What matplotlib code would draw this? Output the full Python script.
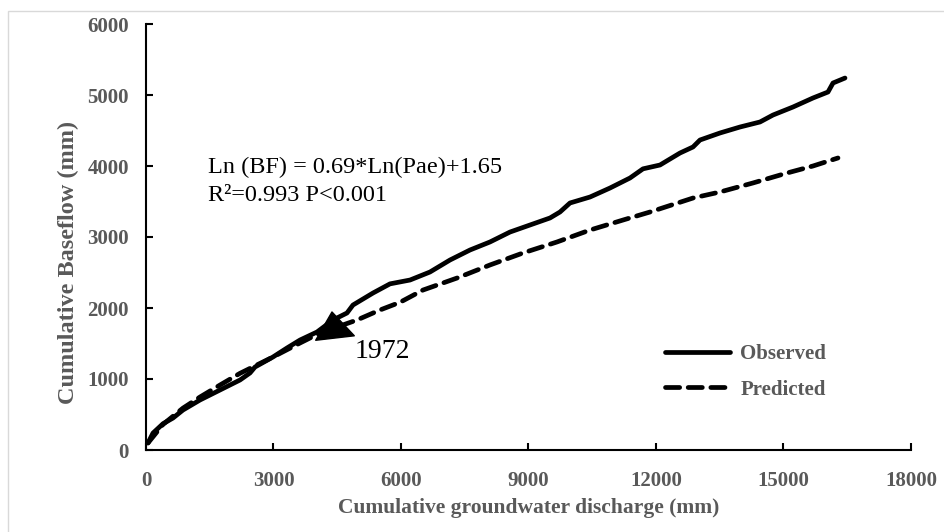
import matplotlib.pyplot as plt
from matplotlib.patches import Rectangle

# cumulative groundwater discharge (mm) vs cumulative baseflow (mm)
obs_x = [47, 165, 400, 635, 870, 1270, 1741, 2212, 2447, 2565, 2988, 3318, 3624, 4024,
         4400, 4730, 4870, 5341, 5741, 6212, 6682, 7153, 7624, 8094, 8565, 9035, 9506,
         9741, 9976, 10447, 10918, 11388, 11694, 12094, 12565, 12871, 13035, 13506,
         13976, 14447, 14753, 15224, 15694, 16047, 16165, 16447]
obs_y = [99, 239, 370, 450, 563, 704, 845, 986, 1085, 1169, 1310, 1437, 1549, 1662,
         1831, 1930, 2042, 2211, 2340, 2394, 2507, 2676, 2817, 2930, 3070, 3169, 3268,
         3352, 3479, 3563, 3690, 3831, 3960, 4014, 4183, 4268, 4366, 4465,
         4549, 4620, 4718, 4831, 4958, 5042, 5169, 5239]

pred_x = [47, 400, 870, 1270, 1741, 2212, 2988, 3624, 4094, 4965, 5506, 5976, 6518, 7318,
          8094, 8871, 9671, 10447, 11224, 11859, 12871, 13506, 14282, 15082, 15694, 16282]
pred_y = [99, 360, 590, 746, 915, 1080, 1310, 1507, 1648, 1831, 1972, 2080, 2253, 2422,
          2606, 2775, 2930, 3098, 3239, 3352, 3549, 3634, 3761, 3901, 4000, 4113]

x_ticks = [0, 3000, 6000, 9000, 12000, 15000, 18000]
y_ticks = [0, 1000, 2000, 3000, 4000, 5000, 6000]

gray = '#595959'
serif = ['Liberation Serif', 'DejaVu Serif']

fig = plt.figure(figsize=(9.45, 5.32), dpi=100)
fig.patches.append(Rectangle((8/945, -0.01), 1.0, 1 - 11/532 + 0.01, transform=fig.transFigure,
                             fill=False, edgecolor='#d9d9d9', linewidth=1))
ax = fig.add_axes([146/945, 1 - 450/532, 765/945, 426/532])

ax.plot(obs_x, obs_y, color='black', lw=3.4, solid_capstyle='round', label='Observed')
ax.plot(pred_x, pred_y, color='black', lw=3.4, dashes=(3.0, 1.8), dash_capstyle='round',
        label='Predicted')

ax.set_xlim(0, 18000)
ax.set_ylim(0, 6000)
ax.set_xticks(x_ticks)
ax.set_yticks(y_ticks)
for s in ['top', 'right']:
    ax.spines[s].set_visible(False)
for s in ['left', 'bottom']:
    ax.spines[s].set_linewidth(1.5)
ax.tick_params(direction='in', length=5, width=1.5)
ax.tick_params(axis='x', pad=15)
ax.tick_params(axis='y', pad=12.3)
for lab in ax.get_xticklabels() + ax.get_yticklabels():
    lab.set_family(serif)
    lab.set_fontweight('bold')
    lab.set_fontsize(15)
    lab.set_color(gray)

ax.set_xlabel('Cumulative groundwater discharge (mm)', family=serif, fontweight='bold',
              fontsize=15.5, color=gray, labelpad=5)
ax.set_ylabel('Cumulative Baseflow (mm)', family=serif, fontweight='bold',
              fontsize=17.5, color=gray)
ax.yaxis.set_label_coords(-0.088, 0.44)

ax.text(1450, 3975, 'Ln (BF) = 0.69*Ln(Pae)+1.65', family=serif, fontsize=17.5,
        va='center', ha='left')
ax.text(1450, 3580, 'R²=0.993 P<0.001', family=serif, fontsize=17.5,
        va='center', ha='left')

# callout for 1972
ax.annotate('', xy=(4376, 1944), xytext=(4447, 1577),
            arrowprops=dict(arrowstyle='wedge,tail_width=1.4', fc='black', ec='black',
                            mutation_scale=20, shrinkA=0, shrinkB=0))
ax.text(4900, 1390, '1972', family=serif, fontsize=20, va='center', ha='left')

leg = ax.legend(loc='upper left', bbox_to_anchor=(0.679, 0.249), frameon=False,
                handlelength=3.1, handletextpad=0.5, labelspacing=0.75,
                borderaxespad=0, borderpad=0,
                prop={'family': serif, 'weight': 'bold', 'size': 15})
for t in leg.get_texts():
    t.set_color(gray)

fig.savefig('out.png', dpi=100)
